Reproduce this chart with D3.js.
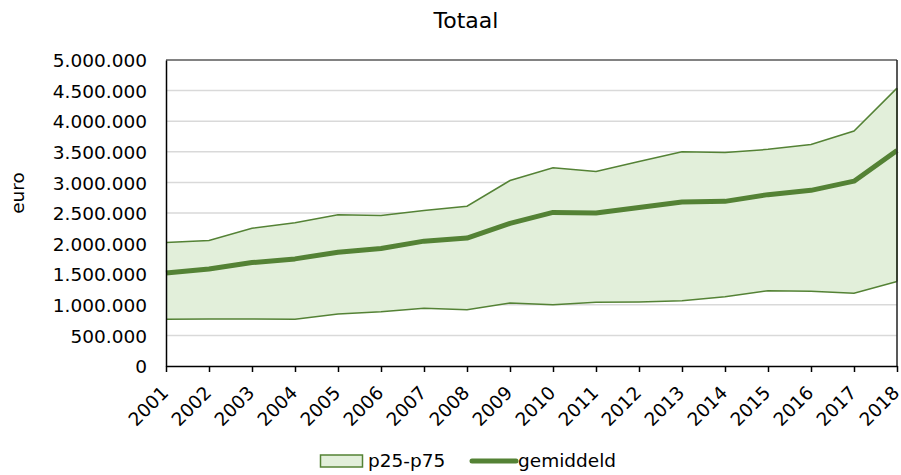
<!doctype html>
<html>
<head>
  <meta charset="UTF-8">
  <title>Totaal</title>
  <script src="https://cdn.jsdelivr.net/npm/d3@7/dist/d3.min.js"></script>
  <style type="text/css">
    body { margin: 0; background: #fff; }
    svg text { font-family: "DejaVu Sans", Verdana, sans-serif; fill: #000; }
  </style>
</head>
<body>
  <div id="chart"></div>
  <script>
    // data
    var years = [2001, 2002, 2003, 2004, 2005, 2006, 2007, 2008, 2009,
                 2010, 2011, 2012, 2013, 2014, 2015, 2016, 2017, 2018];
    var p25 = [765000, 770000, 770000, 765000, 850000, 885000, 945000, 920000, 1030000,
               1000000, 1040000, 1045000, 1065000, 1130000, 1230000, 1220000, 1190000, 1380000];
    var p75 = [2020000, 2050000, 2250000, 2340000, 2470000, 2460000, 2540000, 2610000, 3030000,
               3240000, 3180000, 3340000, 3500000, 3490000, 3540000, 3620000, 3840000, 4540000];
    var gemiddeld = [1520000, 1585000, 1690000, 1750000, 1860000, 1920000, 2040000, 2090000, 2330000,
                     2510000, 2500000, 2590000, 2680000, 2690000, 2800000, 2870000, 3020000, 3520000];
    var yTicks = [0, 500000, 1000000, 1500000, 2000000, 2500000, 3000000, 3500000, 4000000, 4500000, 5000000];

    var w = 901, h = 475,
      mLeft = 166, mRight = 897, mTop = 60, mBottom = 366,
      green = "#548235", lightGreen = "#e2efda";

    var nl = d3.formatLocale({ decimal: ",", thousands: ".", grouping: [3], currency: ["€", ""] });
    var fmt = nl.format(",.0f");

    var x = d3.scaleLinear().domain([years[0], years[years.length - 1]]).range([mLeft, mRight]);
    var y = d3.scaleLinear().domain([0, 5000000]).range([mBottom, mTop]);

    var svg = d3.select("#chart").append("svg")
      .attr("width", w)
      .attr("height", h);

    // gridlines
    svg.append("g").selectAll("line")
      .data(yTicks.slice(1))
      .enter().append("line")
      .attr("x1", mLeft).attr("x2", mRight)
      .attr("y1", function(d) { return y(d); })
      .attr("y2", function(d) { return y(d); })
      .attr("stroke", "#d9d9d9")
      .attr("stroke-width", 1.5);

    var rows = years.map(function(yr, i) {
      return { year: yr, lo: p25[i], hi: p75[i], mean: gemiddeld[i] };
    });

    var area = d3.area()
      .x(function(d) { return x(d.year); })
      .y0(function(d) { return y(d.lo); })
      .y1(function(d) { return y(d.hi); });

    svg.append("path")
      .attr("d", area(rows))
      .attr("fill", lightGreen)
      .attr("stroke", "none");

    var loLine = d3.line().x(function(d) { return x(d.year); }).y(function(d) { return y(d.lo); });
    var hiLine = d3.line().x(function(d) { return x(d.year); }).y(function(d) { return y(d.hi); });
    var meanLine = d3.line().x(function(d) { return x(d.year); }).y(function(d) { return y(d.mean); });

    svg.append("path").attr("d", loLine(rows))
      .attr("fill", "none").attr("stroke", green).attr("stroke-width", 1.5);
    svg.append("path").attr("d", hiLine(rows))
      .attr("fill", "none").attr("stroke", green).attr("stroke-width", 1.5);
    // closing edge of the band on the right
    svg.append("line")
      .attr("x1", x(years[years.length - 1])).attr("x2", x(years[years.length - 1]))
      .attr("y1", y(p25[p25.length - 1])).attr("y2", y(p75[p75.length - 1]))
      .attr("stroke", green).attr("stroke-width", 1.5);

    svg.append("path").attr("d", meanLine(rows))
      .attr("fill", "none").attr("stroke", green).attr("stroke-width", 5)
      .attr("stroke-linejoin", "round");

    // frame: top and right
    svg.append("line").attr("x1", mLeft).attr("x2", mRight).attr("y1", mTop).attr("y2", mTop)
      .attr("stroke", "#222").attr("stroke-width", 1);
    svg.append("line").attr("x1", mRight).attr("x2", mRight).attr("y1", mTop).attr("y2", mBottom)
      .attr("stroke", "#222").attr("stroke-width", 1.5);

    // y axis
    var yAxis = svg.append("g")
      .attr("transform", "translate(" + mLeft + ",0)")
      .call(d3.axisLeft(y).tickValues(yTicks).tickFormat(fmt).tickSize(0).tickPadding(19));
    yAxis.select(".domain").attr("stroke", "#000").attr("stroke-width", 1.5);
    yAxis.selectAll("text")
      .style("font-size", "18.5px")
      .attr("dy", "0.36em");

    // x axis
    var xAxis = svg.append("g")
      .attr("transform", "translate(0," + mBottom + ")")
      .call(d3.axisBottom(x).tickValues(years).tickFormat(d3.format("d")).tickSize(6).tickSizeOuter(0));
    xAxis.select(".domain").attr("stroke", "#000").attr("stroke-width", 1.5);
    xAxis.selectAll(".tick line").attr("stroke", "#000").attr("stroke-width", 1.5);
    xAxis.selectAll("text")
      .style("font-size", "18.5px")
      .attr("text-anchor", "end")
      .attr("x", 0).attr("y", 0).attr("dy", 0)
      .attr("transform", "translate(3,28) rotate(-45)");

    // title
    svg.append("text")
      .attr("x", 466).attr("y", 28)
      .attr("text-anchor", "middle")
      .style("font-size", "22px")
      .text("Totaal");

    // y label
    svg.append("text")
      .attr("transform", "translate(24,193) rotate(-90)")
      .attr("text-anchor", "middle")
      .style("font-size", "18.5px")
      .text("euro");

    // legend
    var lg = svg.append("g");
    lg.append("rect")
      .attr("x", 320.5).attr("y", 455).attr("width", 42).attr("height", 12)
      .attr("fill", lightGreen).attr("stroke", green).attr("stroke-width", 1.5);
    lg.append("text")
      .attr("x", 368).attr("y", 467)
      .style("font-size", "18.5px")
      .text("p25-p75");
    lg.append("line")
      .attr("x1", 472).attr("x2", 516).attr("y1", 461).attr("y2", 461)
      .attr("stroke", green).attr("stroke-width", 5).attr("stroke-linecap", "round");
    lg.append("text")
      .attr("x", 518).attr("y", 467)
      .style("font-size", "18.5px")
      .text("gemiddeld");
  </script>
</body>
</html>
